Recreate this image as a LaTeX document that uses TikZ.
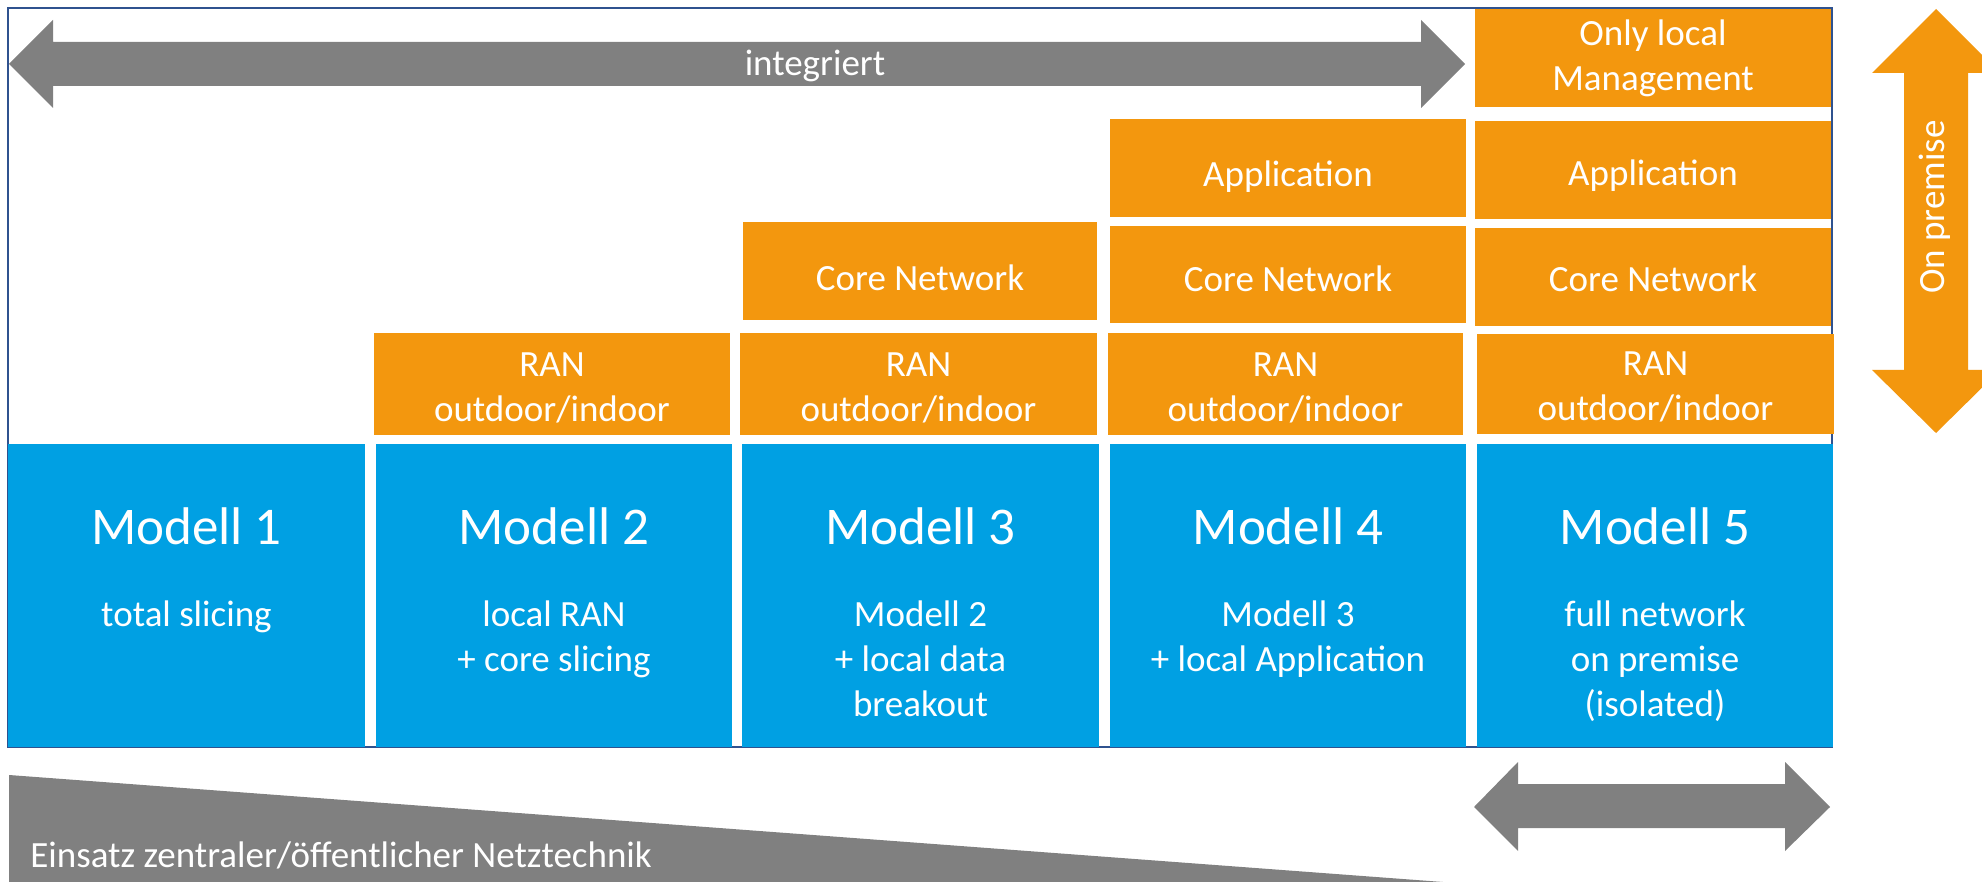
\documentclass[tikz,border=0pt]{standalone}
\usepackage{fontspec}
\setmainfont{Carlito}
\definecolor{myorange}{RGB}{243,151,14}
\definecolor{myblue}{RGB}{0,160,227}
\definecolor{mygray}{RGB}{128,128,128}
\definecolor{myframe}{RGB}{47,82,143}
\newcommand{\liftby}[1]{\rule{0pt}{#1}}
\newcommand{\lifttwo}{\rule{0pt}{22.75pt}}
\tikzset{
  obox/.style={fill=myorange, draw=none, text=white, align=center, inner sep=0pt,
    font=\fontsize{18.5}{22.5}\selectfont},
  bbox/.style={fill=myblue, draw=none, inner sep=0pt, minimum height=151.5pt},
  title/.style={text=white, inner sep=0pt, anchor=base, font=\fontsize{26.5}{32}\selectfont},
  sub/.style={text=white, inner sep=0pt, anchor=north, align=center, font=\fontsize{18.5}{22.5}\selectfont},
  lbl/.style={text=white, inner sep=0pt, font=\fontsize{18.5}{22.5}\selectfont},
  garrow/.style={fill=mygray, draw=none},
  oarrow/.style={fill=myorange, draw=none}
}
\begin{document}
\begin{tikzpicture}[x=0.5pt,y=-0.5pt]
\useasboundingbox (0,0) rectangle (1982,882);
\clip (0,0) rectangle (1982,882);
\fill[white] (0,0) rectangle (1982,882);
% frame
\draw[myframe, line width=1pt] (8,8) rectangle (1832,747);
% top gray double arrow
\fill[garrow] (9,64) -- (53,20) -- (53,42) -- (1421,42) -- (1421,20) -- (1465,64)
  -- (1421,108) -- (1421,86) -- (53,86) -- (53,108) -- cycle;
\node[lbl] (integ) at (815,64) {\rule{0pt}{18.5pt}\strut integriert};
% blue boxes
\node[bbox, minimum width=178.5pt] (b1) at (186.5,595.5) {};
\node[bbox, minimum width=178pt] (b2) at (554,595.5) {};
\node[bbox, minimum width=178.5pt] (b3) at (920.5,595.5) {};
\node[bbox, minimum width=178pt] (b4) at (1288,595.5) {};
\node[bbox, minimum width=178pt] (b5) at (1655,595.5) {};
% titles
\node[title] (t1) at (186.5,544) {Modell 1};
\node[title] (t2) at (554,544) {Modell 2};
\node[title] (t3) at (920.5,544) {Modell 3};
\node[title] (t4) at (1288,544) {Modell 4};
\node[title] (t5) at (1655,544) {Modell 5};
% subtitles
\node[sub] (s1) at (186.5,595) {\strut total slicing};
\node[sub] (s2) at (554,595) {\strut local RAN\\\strut + core slicing};
\node[sub] (s3) at (920.5,595) {\strut Modell 2\\\strut + local data\\\strut breakout};
\node[sub] (s4) at (1288,595) {\strut Modell 3\\\strut + local Application};
\node[sub] (s5) at (1655,595) {\strut full network\\\strut on premise\\\strut (isolated)};
% RAN row
\node[obox, minimum width=178pt, minimum height=49pt] (r2) at (552,384) {\liftby{21.75pt}\strut RAN\\\strut outdoor/indoor};
\node[obox, minimum width=178.5pt, minimum height=49pt] (r3) at (918.5,384) {\liftby{21.75pt}\strut RAN\\\strut outdoor/indoor};
\node[obox, minimum width=177.5pt, minimum height=49pt] (r4) at (1285.5,384) {\liftby{21.75pt}\strut RAN\\\strut outdoor/indoor};
\node[obox, minimum width=178.5pt, minimum height=49pt] (r5) at (1655.5,384) {\liftby{20.75pt}\strut RAN\\\strut outdoor/indoor};
% Core row
\node[obox, minimum width=177pt, minimum height=49pt] (c3) at (920,271) {\liftby{26.25pt}\strut Core Network};
\node[obox, minimum width=178pt, minimum height=48.5pt] (c4) at (1288,275) {\liftby{23.75pt}\strut Core Network};
\node[obox, minimum width=178pt, minimum height=49pt] (c5) at (1653,277) {\liftby{21.5pt}\strut Core Network};
% Application row
\node[obox, minimum width=178pt, minimum height=49pt] (a4) at (1288,168) {\liftby{25.25pt}\strut Application};
\node[obox, minimum width=178pt, minimum height=49pt] (a5) at (1653,170) {\liftby{22.5pt}\strut Application};
% Management
\node[obox, minimum width=178pt, minimum height=49pt] (m5) at (1653,58) {\liftby{17pt}\strut Only local\\\strut Management};
% orange vertical arrow
\fill[oarrow] (1936,9) -- (2000,73) -- (1968,73) -- (1968,370) -- (2000,370) -- (1936,433)
  -- (1872,370) -- (1904,370) -- (1904,73) -- (1872,73) -- cycle;
\node[lbl, rotate=90] (prem) at (1935,207) {On premise};
% bottom wedge
\fill[mygray] (9,775) -- (1443,882) -- (9,882) -- cycle;
\node[lbl, anchor=base west] (einsatz) at (30,867) {Einsatz zentraler/öffentlicher Netztechnik};
% bottom gray double arrow
\fill[garrow] (1474,807) -- (1518,762) -- (1518,784) -- (1785,784) -- (1785,762) -- (1830,807)
  -- (1785,851) -- (1785,828) -- (1518,828) -- (1518,851) -- cycle;
\end{tikzpicture}
\end{document}
